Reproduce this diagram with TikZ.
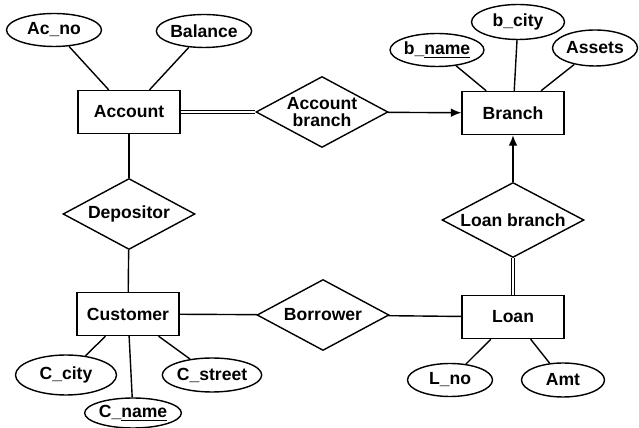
\documentclass[tikz,border=0pt]{standalone}
\usepackage{fontspec}
\setmainfont{Liberation Sans}
\usetikzlibrary{shapes.geometric,arrows.meta}

\begin{document}
\begin{tikzpicture}[x=0.02cm,y=-0.02cm,line width=0.8pt,
  font=\bfseries\fontsize{10}{10}\selectfont,
  entity/.style={rectangle,draw,minimum width=2.04cm,minimum height=0.86cm},
  attr/.style={ellipse,draw,minimum width=1.86cm,minimum height=0.66cm,inner sep=0pt},
  rel/.style={diamond,draw,aspect=1.9,minimum width=2.64cm,minimum height=1.42cm,inner sep=0pt,align=center},
  total/.style={double,double distance=1.2pt},
  toone/.style={-{Latex[length=6pt,width=5pt]}}]
\useasboundingbox (0,0) rectangle (639,428);

% entities
\node (Acc)[entity] at (129,112) {Account};
\node (Bra)[entity] at (513,113) {Branch};
\node (Cus)[entity] at (128,314) {Customer};
\node (Loa)[entity] at (513,317) {Loan};

% relationships
\node (AccBr)[rel,inner sep=-3pt] at (322,112) {Account\\branch};
\node (Dep)[rel] at (129,214) {Depositor};
\node (Bor)[rel] at (323,315) {Borrower};
\node (LoaBr)[rel,minimum width=2.84cm,minimum height=1.5cm] at (513,220) {Loan branch};

% attributes
\node (AcNo)[attr,minimum width=1.9cm] at (54,30) {Ac\_no};
\node (Bal)[attr] at (204,31) {Balance};
\node (BName)[attr] at (437,50) {b\_\underline{name}};
\node (BCity)[attr,minimum height=0.7cm] at (518,22) {b\_city};
\node (Ast)[attr,minimum width=1.7cm,minimum height=0.72cm] at (595,48) {Assets};
\node (CCity)[attr,minimum width=2.02cm,minimum height=0.8cm] at (66,375) {C\_city};
\node (CStr)[attr,minimum width=1.82cm,minimum height=0.68cm] at (212,375) {C\_street};
\node (CName)[attr,minimum width=1.84cm,minimum height=0.6cm] at (133,413) {C\_\underline{name}};
\node (LNo)[attr,minimum width=1.7cm] at (450,380) {L\_no};
\node (Amt)[attr,minimum width=1.66cm,minimum height=0.68cm] at (563,380) {Amt};

\draw (AcNo) -- (Acc);
\draw (Bal) -- (Acc);
\draw (BName) -- (Bra);
\draw (BCity) -- (Bra);
\draw (Ast) -- (Bra);
\draw (Cus) -- (CCity);
\draw (Cus) -- (CName);
\draw (Cus) -- (CStr);
\draw (Loa) -- (LNo);
\draw (Loa) -- (Amt);

\draw[total] (Acc) -- (AccBr);
\draw[toone] (AccBr) -- (Bra);
\draw (Acc) -- (Dep);
\draw (Dep) -- (Cus);
\draw (Cus) -- (Bor);
\draw (Bor) -- (Loa);
\draw[total] (Loa) -- (LoaBr);
\draw[toone] (LoaBr) -- (Bra);
\end{tikzpicture}
\end{document}
